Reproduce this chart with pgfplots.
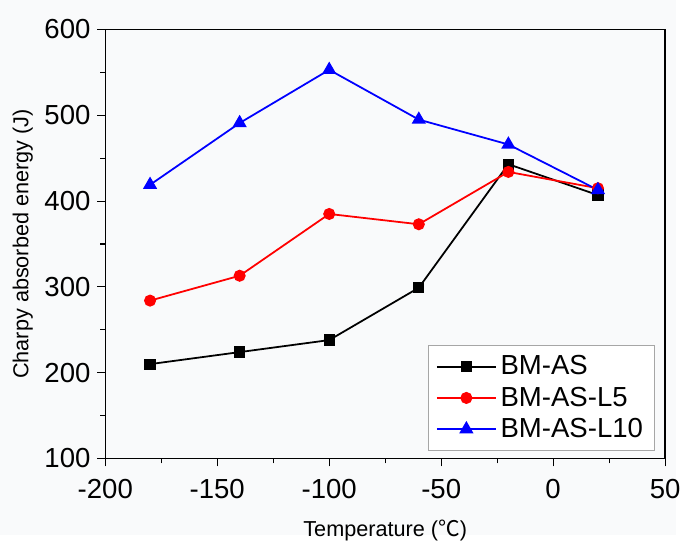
\documentclass[border=0pt]{standalone}
\usepackage{pgfplots}
\pgfplotsset{compat=1.18}
\usetikzlibrary{backgrounds}
\usepackage{fontspec}
\setmainfont{Liberation Sans}
\newfontfamily\cjk{Noto Sans CJK SC}
\definecolor{bgc}{HTML}{F9FAFB}
\begin{document}
\begin{tikzpicture}
\begin{axis}[
  name=ax,
  scale only axis, width=284.5pt, height=218pt,
  xmin=-200, xmax=50, ymin=100, ymax=600,
  xtick={-200,-150,...,50}, ytick={100,200,...,600},
  minor x tick num=1, minor y tick num=1,
  tick align=outside, tick pos=left,
  major tick length=4pt, minor tick length=2.5pt,
  every tick/.style={black, line width=0.6pt},
  axis line style={line width=0.7pt},
  ticklabel style={font=\fontsize{14}{16}\selectfont},
  xticklabel style={yshift=-3pt},
  /pgf/number format/assume math mode=true,
  xlabel={Temperature ({\cjk ℃})},
  ylabel={Charpy absorbed energy (J)},
  label style={font=\fontsize{11}{13}\selectfont},
  xlabel style={yshift=-4pt},
  ylabel style={yshift=-1pt},
  legend style={at={(rel axis cs:1,0)}, anchor=south east, xshift=-5pt, yshift=4pt,
    draw=gray!70, line width=0.5pt, font=\fontsize{14}{16}\selectfont,
    row sep=0.6pt, inner xsep=4pt, inner ysep=3pt, fill=white},
  legend cell align=left,
  legend image code/.code={\draw[#1] (0cm,0cm) -- (1.05cm,0cm); \draw[#1,only marks] plot coordinates {(0.525cm,0cm)};},
]
\addplot[black, line width=0.9pt, mark=square*, mark size=2.4pt] coordinates {
(-180,210) (-140,224) (-100,238) (-60,299) (-20,443) (20,407)};
\addlegendentry{BM-AS}
\addplot[red, line width=0.9pt, mark=*, mark size=2.6pt] coordinates {
(-180,284) (-140,313) (-100,385) (-60,373) (-20,434) (20,415)};
\addlegendentry{BM-AS-L5}
\addplot[blue, line width=0.9pt, mark=triangle*, mark size=3.3pt] coordinates {
(-180,419) (-140,491) (-100,553) (-60,495) (-20,466) (20,413)};
\addlegendentry{BM-AS-L10}
\end{axis}
\begin{scope}[on background layer]
\fill[bgc] ([xshift=-53.5pt,yshift=-39pt]ax.south west) rectangle ([xshift=5.5pt,yshift=15pt]ax.north east);
\end{scope}
\path[use as bounding box] ([xshift=-53.5pt,yshift=-39pt]ax.south west) rectangle ([xshift=5.5pt,yshift=15pt]ax.north east);
\end{tikzpicture}
\end{document}
